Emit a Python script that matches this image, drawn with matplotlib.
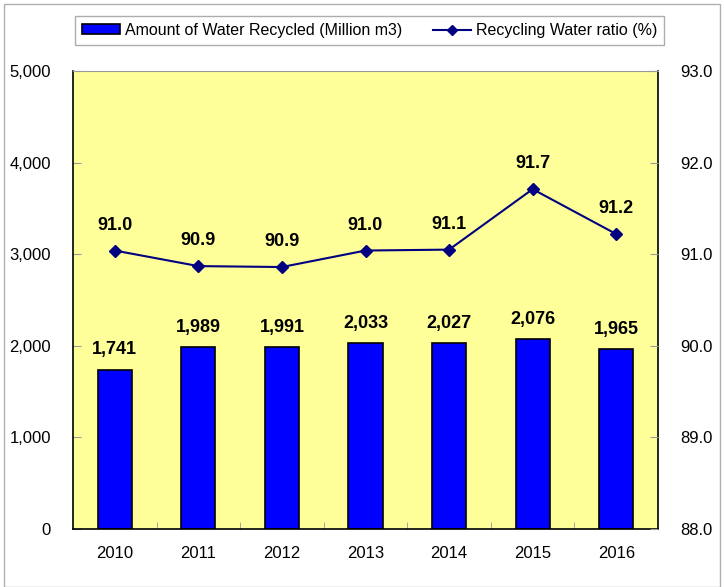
import matplotlib
matplotlib.use("Agg")
import matplotlib.pyplot as plt
from matplotlib.patches import Patch, Rectangle
from matplotlib.lines import Line2D
from matplotlib.ticker import FuncFormatter

plt.rcParams["font.family"] = ["Liberation Sans Narrow", "Liberation Sans", "DejaVu Sans"]

# ------------------------------------------------------------------ #
# Data
# ------------------------------------------------------------------ #
years = ["2010", "2011", "2012", "2013", "2014", "2015", "2016"]
recycled = [1741, 1989, 1991, 2033, 2027, 2076, 1965]          # Million m3
ratio = [91.04, 90.87, 90.86, 91.04, 91.05, 91.71, 91.22]       # %
ratio_labels = ["91.0", "90.9", "90.9", "91.0", "91.1", "91.7", "91.2"]

fig = plt.figure(figsize=(7.24, 5.87), dpi=100)
fig.patches.append(Rectangle((4 / 724, 0), 1 - 8 / 724, 1 - 4 / 587, transform=fig.transFigure,
                             fill=False, edgecolor="#b0b0b0", linewidth=1))

ax = fig.add_axes([73 / 724, 1 - 529 / 587, (658 - 73) / 724, (529 - 71) / 587])
ax.set_facecolor("#FFFF99")
x = list(range(len(years)))

bars = ax.bar(x, recycled, width=0.41, color="#0000FF", edgecolor="black", linewidth=1.2, zorder=2)
ax.set_xlim(-0.5, len(years) - 0.5)
ax.set_ylim(0, 5000)
ax.set_yticks(range(0, 5001, 1000))
ax.yaxis.set_major_formatter(FuncFormatter(lambda v, p: f"{int(v):,}"))
ax.set_xticks(x)
ax.set_xticklabels(years)
ax.set_xticks([i + 0.5 for i in x[:-1]], minor=True)
ax.tick_params(axis="x", which="major", length=0, pad=12, labelsize=12)
ax.tick_params(axis="x", which="minor", length=5, direction="in", color="#999999")
ax.tick_params(axis="y", length=6, direction="in", color="#999999", labelsize=12, pad=16)
for s in ["left", "bottom", "right"]:
    ax.spines[s].set_color("black")
    ax.spines[s].set_linewidth(1.2)
ax.spines["top"].set_color("#999999")

for xi, v in zip(x, recycled):
    ax.annotate(f"{v:,}", (xi, v), xytext=(0, 8), textcoords="offset points",
                ha="center", va="bottom", fontsize=13, fontweight="bold")

ax2 = ax.twinx()
ax2.set_ylim(88, 93)
ax2.set_yticks([88, 89, 90, 91, 92, 93])
ax2.yaxis.set_major_formatter(FuncFormatter(lambda v, p: f"{v:.1f}"))
ax2.tick_params(axis="y", length=6, direction="in", color="#999999", labelsize=12, pad=16)
for s in ax2.spines.values():
    s.set_visible(False)
ax2.plot(x, ratio, color="#000080", marker="D", markersize=6, linewidth=1.5, zorder=3)
for xi, v, lab in zip(x, ratio, ratio_labels):
    ax2.annotate(lab, (xi, v), xytext=(0, 12), textcoords="offset points",
                 ha="center", va="bottom", fontsize=13, fontweight="bold")

handles = [Patch(facecolor="#0000FF", edgecolor="black", linewidth=1.2),
           Line2D([], [], color="#000080", marker="D", markersize=5, linewidth=1.5)]
labels = ["Amount of Water Recycled (Million m3)", "Recycling Water ratio (%)"]
leg = fig.legend(handles, labels, loc="center", ncol=2, fontsize=11.5,
                 bbox_to_anchor=(75 / 724, 1 - 45 / 587, (664 - 75) / 724, 29 / 587),
                 frameon=True, fancybox=False, edgecolor="#999999", handlelength=2.4,
                 handleheight=0.6, handletextpad=0.3, columnspacing=1.9, borderpad=0.45,
                 borderaxespad=0)
leg.get_frame().set_linewidth(1)

fig.savefig("out.png", dpi=100)
